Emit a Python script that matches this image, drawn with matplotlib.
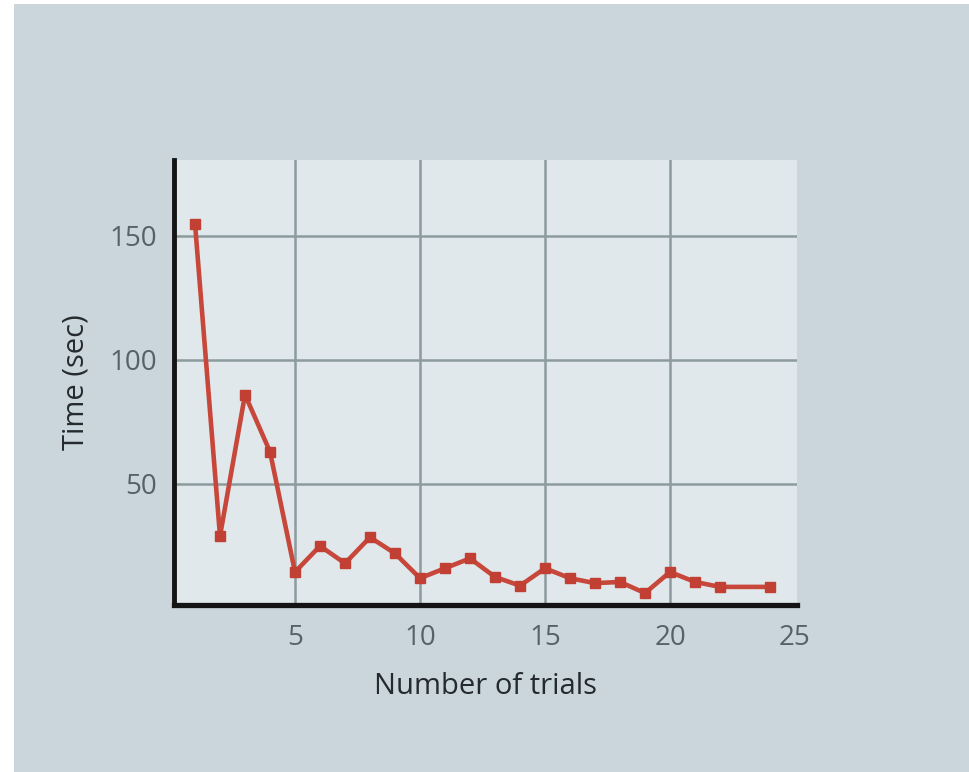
import numpy as np
import matplotlib
matplotlib.use('Agg')
import matplotlib.pyplot as plt
from matplotlib.patches import Rectangle

# data
trials = [1, 2, 3, 4, 5, 6, 7, 8, 9, 10, 11, 12,
          13, 14, 15, 16, 17, 18, 19, 20, 21, 22, 24]
times = [155, 29, 86, 63, 14.5, 25, 18, 28.5, 22, 12, 16, 20,
         12.5, 9, 16, 12, 10, 10.5, 6, 14.5, 10.5, 8.5, 8.5]
xticks = [5, 10, 15, 20, 25]
yticks = [50, 100, 150]

plt.rcParams['font.family'] = ['Open Sans', 'DejaVu Sans']

W, H = 969, 772
fig = plt.figure(figsize=(W / 100, H / 100), dpi=100)
fig.patch.set_facecolor('white')
# grey-blue panel, thin white strip on left/top
fig.patches.append(Rectangle((14 / W, 0), 1 - 14 / W, 1 - 4 / H,
                             transform=fig.transFigure, facecolor='#cbd6dc',
                             edgecolor='none', zorder=-10))

ax = fig.add_axes([174 / W, 1 - 605 / H, (797 - 174) / W, (605 - 160) / H])
ax.set_facecolor('#e0e8eb')

ax.plot(trials, times, color='#c8473b', lw=3.3, marker='s', ms=6.5,
        mec='#c23f33', mfc='#c23f33', zorder=3, clip_on=False)

ax.set_xlim(0.16, 25.08)
ax.set_ylim(1.2, 180.6)
ax.set_xticks(xticks)
ax.set_yticks(yticks)
ax.grid(True, color='#8d9b9e', lw=1.8)
ax.get_xgridlines()[-1].set_visible(False)
ax.set_axisbelow(True)
ax.tick_params(length=0, labelsize=20, labelcolor='#56626b')
ax.tick_params(axis='x', pad=14)
ax.tick_params(axis='y', pad=12)

for side in ['top', 'right']:
    ax.spines[side].set_visible(False)
ax.spines['left'].set_linewidth(3.5)
ax.spines['bottom'].set_linewidth(3.8)
ax.spines['left'].set_color('#141414')
ax.spines['bottom'].set_color('#141414')

ax.set_xlabel('Number of trials', fontsize=21, color='#252a2e', labelpad=14)
ax.set_ylabel('Time (sec)', fontsize=21, color='#252a2e', labelpad=14)

fig.savefig('out.png', dpi=100, facecolor=fig.get_facecolor())
